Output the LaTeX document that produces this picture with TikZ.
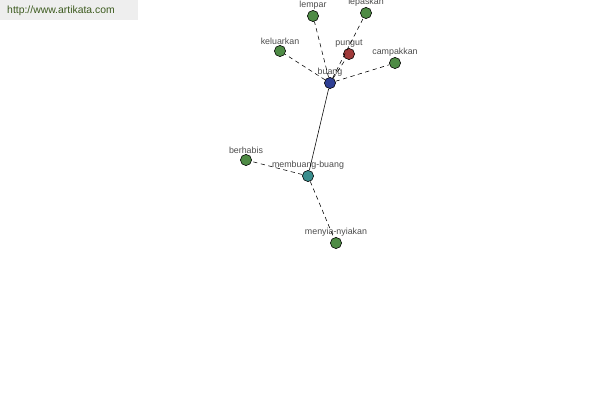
\documentclass[tikz,border=0pt]{standalone}
\usepackage{fontspec}
\setmainfont{Liberation Sans}
\usepackage{xcolor}
\usetikzlibrary{positioning}
\usetikzlibrary{calc}

\definecolor{leafgreen}{HTML}{4E8B45}
\definecolor{rootblue}{HTML}{2E3F94}
\definecolor{midteal}{HTML}{3A8E8E}
\definecolor{pickred}{HTML}{A03A3A}
\definecolor{linkgreen}{HTML}{3C5A1E}
\definecolor{headgray}{HTML}{EEEEEE}

\begin{document}
\begin{tikzpicture}[
                x=0.025cm, y=-0.025cm,
                every node/.style={font=\fontsize{6.3}{7}\selectfont},
                word/.style={circle, draw, line width=0.4pt, minimum size=0.28cm, inner sep=0pt},
                lbl/.style={text=black!70, inner sep=0.5pt, label distance=-0.5pt},
                rel/.style={dashed, dash pattern=on 3pt off 2.5pt, line width=0.4pt},
                syn/.style={line width=0.4pt}
            ]
            \useasboundingbox (0,0) rectangle (600,400);
            % Header
            \fill[headgray] (0,0) rectangle (138,20);
            \node[font=\fontsize{7.4}{8}\selectfont, text=linkgreen] (site) at (61,11) {http://www.artikata.com};
            % Nodes
            \node[word, fill=rootblue, label={[lbl]above:buang}] (buang) at (330,83) {};
            \node[word, fill=pickred, label={[lbl]above:pungut}] (pungut) at (349,54) {};
            \node[word, fill=leafgreen, label={[lbl]above:lempar}] (lempar) at (313,16) {};
            \node[word, fill=leafgreen, label={[lbl]above:lepaskan}] (lepaskan) at (366,13) {};
            \node[word, fill=leafgreen, label={[lbl]above:keluarkan}] (keluarkan) at (280,51) {};
            \node[word, fill=leafgreen, label={[lbl]above:campakkan}] (campakkan) at (395,63) {};
            \node[word, fill=midteal, label={[lbl]above:membuang-buang}] (membuang) at (308,176) {};
            \node[word, fill=leafgreen, label={[lbl]above:berhabis}] (berhabis) at (246,160) {};
            \node[word, fill=leafgreen, label={[lbl]above:menyia-nyiakan}] (menyia) at (336,243) {};
            % Links
            \draw[rel] (buang) -- (pungut);
            \draw[rel] (buang) -- (lempar);
            \draw[rel] (buang) -- (lepaskan);
            \draw[rel] (buang) -- (keluarkan);
            \draw[rel] (buang) -- (campakkan);
            \draw[syn] (buang) -- (membuang);
            \draw[rel] (membuang) -- (berhabis);
            \draw[rel] (membuang) -- (menyia);
            
            \end{tikzpicture}
\end{document}
